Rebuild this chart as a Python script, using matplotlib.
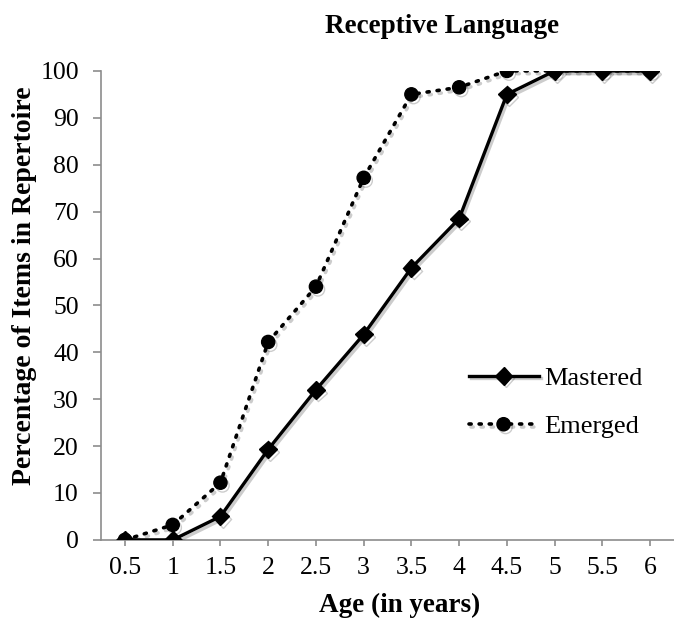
import matplotlib.pyplot as plt
import matplotlib.patheffects as pe
import numpy as np

plt.rcParams['font.family'] = ['Liberation Serif', 'DejaVu Serif']

ages = ['0.5', '1', '1.5', '2', '2.5', '3', '3.5', '4', '4.5', '5', '5.5', '6']
mastered = [0, 0, 5, 19.3, 32, 43.8, 58, 68.5, 95, 100, 100, 100]
emerged = [0, 3.2, 12.2, 42.2, 54, 77.2, 95, 96.5, 100, 100, 100, 100]

fig = plt.figure(figsize=(6.74, 6.22), dpi=100)
ax = fig.add_axes([0.15, 0.132, 0.85, 0.754])

shadow = [pe.SimpleLineShadow(offset=(1.5, -2), alpha=0.2, shadow_color='black'), pe.Normal()]

x = np.arange(len(ages))
ax.plot(x, emerged, color='black', linestyle=(0, (0.6, 2.2)), dash_capstyle='round',
        linewidth=2.6, marker='o', markersize=9.5, label='Emerged', zorder=2,
        path_effects=shadow)
ax.plot(x, mastered, color='black', linestyle='-', linewidth=2.4,
        marker='D', markersize=9, label='Mastered', zorder=3, path_effects=shadow)

ax.set_xlim(-0.5, len(ages) - 0.5)
ax.set_ylim(0, 100)
ax.set_xticks(x)
ax.set_xticklabels(ages)
ax.set_yticks(range(0, 101, 10))

for side in ['top', 'right']:
    ax.spines[side].set_visible(False)
for side in ['left', 'bottom']:
    ax.spines[side].set_color('#8c8c8c')
    ax.spines[side].set_linewidth(1.2)
ax.tick_params(axis='both', colors='#8c8c8c', width=1.2, labelsize=18.5,
               labelcolor='black')
ax.tick_params(axis='y', length=6, pad=10)
ax.tick_params(axis='x', length=4, pad=8)

# titles placed like the original chart (centred on the chart area, not the axes)
fig.text(442 / 674, 1 - 33 / 622, 'Receptive Language', fontsize=19.5,
         fontweight='bold', ha='center', va='baseline')
fig.text(400 / 674, 10 / 622, 'Age (in years)', fontsize=19.5,
         fontweight='bold', ha='center', va='baseline')
fig.text(25 / 674, 1 - 286 / 622, 'Percentage of Items in Repertoire', fontsize=20,
         fontweight='bold', ha='center', va='center', rotation=90)

handles, labels = ax.get_legend_handles_labels()
ax.legend(handles[::-1], labels[::-1], loc='center left', bbox_to_anchor=(0.60, 0.293),
          frameon=False, fontsize=19, handlelength=2.65, handletextpad=0.23,
          labelspacing=0.95)

fig.savefig('out.png', dpi=100)
